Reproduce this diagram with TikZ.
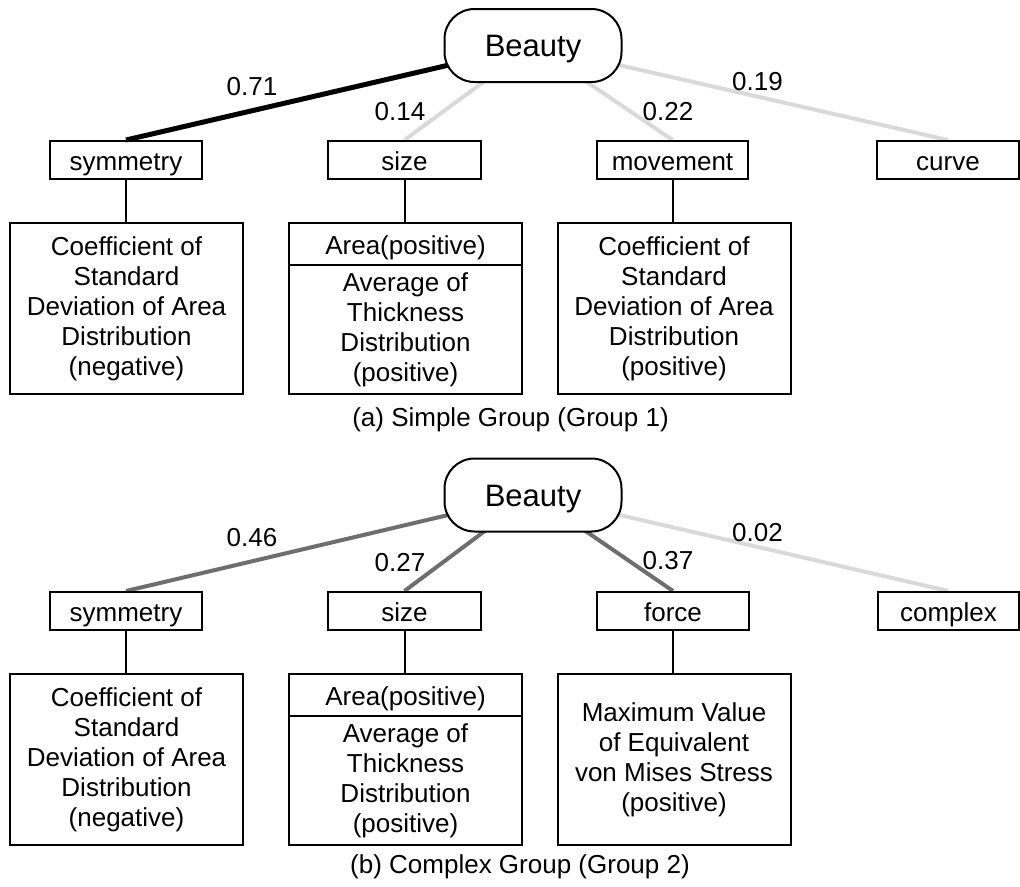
\documentclass[tikz,border=0pt]{standalone}
\usepackage{fontspec}
\setmainfont{Liberation Sans}
\usepackage{tikz}
\pgfdeclarelayer{background}
\pgfsetlayers{background,main}

\begin{document}
\begin{tikzpicture}[x=0.75pt,y=0.75pt,yscale=-1,xscale=1,
  every node/.style={font=\fontsize{19.5}{22.5}\selectfont},
  beautybox/.style={draw,line width=1.5pt,rounded corners=22.5pt,fill=white,minimum width=132.75pt,minimum height=54.75pt,inner sep=0pt,text height=21.4pt,text depth=4.6pt,font=\fontsize{23.25}{27}\selectfont},
  factorbox/.style={draw,line width=1.5pt,minimum height=28.5pt,inner sep=0pt,text height=19.5pt,text depth=3.7pt},
  detailbox/.style={draw,line width=1.5pt,minimum width=174.75pt,align=center,inner sep=0pt},
  strong/.style={line width=3.75pt,color={rgb, 255:red, 0; green, 0; blue, 0 }},
  mid/.style={line width=3pt,color={rgb, 255:red, 110; green, 110; blue, 110 }},
  weak/.style={line width=3pt,color={rgb, 255:red, 217; green, 217; blue, 217 }},
  stem/.style={line width=1.5pt}
]
\useasboundingbox (0,0) rectangle (1020,886);

%%%%%%%% (a) Simple Group %%%%%%%%

%Rounded Rect
\draw (533,45.5) node [beautybox] (beauty1) {Beauty};

% Factor boxes
\draw (126,160) node [factorbox,minimum width=114pt] (sym1) {symmetry};
\draw (404.5,160) node [factorbox,minimum width=114.75pt] (size1) {size};
\draw (672.5,160) node [factorbox,minimum width=113.25pt] (move1) {movement};
\draw (948,160) node [factorbox,minimum width=106.5pt] (curve1) {curve};

% Feature boxes
\draw (126.5,308.5) node [detailbox,minimum height=128.25pt] (coef1) {Coefficient of\\Standard\\Deviation of Area\\Distribution\\(negative)};
\draw (405.5,244) node [detailbox,minimum height=31.5pt,text height=19.5pt,text depth=3.7pt] (area1) {Area(positive)};
\draw (405.5,329.5) node [detailbox,minimum height=96.75pt] (thick1) {Average of\\Thickness\\Distribution\\(positive)};
\draw (674,308.5) node [detailbox,minimum height=128.25pt] (coefm1) {Coefficient of\\Standard\\Deviation of Area\\Distribution\\(positive)};

%Straight Lines
\begin{pgfonlayer}{background}
\draw [strong] (beauty1.center) -- (sym1.north);
\draw [weak] (beauty1.center) -- (size1.north);
\draw [weak] (beauty1.center) -- (move1.north);
\draw [weak] (beauty1.center) -- (curve1.north);
\end{pgfonlayer}
\draw [stem] (sym1.south) -- (sym1.south |- coef1.north);
\draw [stem] (size1.south) -- (size1.south |- area1.north);
\draw [stem] (move1.south) -- (move1.south |- coefm1.north);

% Text Node
\draw (252,87) node (w71) {0.71};
% Text Node
\draw (400,112) node (w14) {0.14};
% Text Node
\draw (668,112) node (w22) {0.22};
% Text Node
\draw (757.5,82) node (w19) {0.19};
% Text Node
\draw (510.5,420) node (capa) {(a) Simple Group (Group 1)};

%%%%%%%% (b) Complex Group %%%%%%%%

%Rounded Rect
\draw (533,495) node [beautybox] (beauty2) {Beauty};

% Factor boxes
\draw (126,611) node [factorbox,minimum width=114pt] (sym2) {symmetry};
\draw (404.5,611) node [factorbox,minimum width=114.75pt] (size2) {size};
\draw (673,611) node [factorbox,minimum width=114pt] (force2) {force};
\draw (948.5,611) node [factorbox,minimum width=105.75pt] (cplx2) {complex};

% Feature boxes
\draw (126.5,759.5) node [detailbox,minimum height=128.25pt] (coef2) {Coefficient of\\Standard\\Deviation of Area\\Distribution\\(negative)};
\draw (405.5,695) node [detailbox,minimum height=31.5pt,text height=19.5pt,text depth=3.7pt] (area2) {Area(positive)};
\draw (405.5,780.5) node [detailbox,minimum height=96.75pt] (thick2) {Average of\\Thickness\\Distribution\\(positive)};
\draw (674,759.5) node [detailbox,minimum height=128.25pt] (mises2) {Maximum Value\\of Equivalent\\von Mises Stress\\(positive)};

%Straight Lines
\begin{pgfonlayer}{background}
\draw [mid] (beauty2.center) -- (sym2.north);
\draw [mid] (beauty2.center) -- (size2.north);
\draw [mid] (beauty2.center) -- (force2.north);
\draw [weak] (beauty2.center) -- (cplx2.north);
\end{pgfonlayer}
\draw [stem] (sym2.south) -- (sym2.south |- coef2.north);
\draw [stem] (size2.south) -- (size2.south |- area2.north);
\draw [stem] (force2.south) -- (force2.south |- mises2.north);

% Text Node
\draw (252,538) node (w46) {0.46};
% Text Node
\draw (400,563) node (w27) {0.27};
% Text Node
\draw (668,561) node (w37) {0.37};
% Text Node
\draw (757.5,533) node (w02) {0.02};
% Text Node
\draw (520,867) node (capb) {(b) Complex Group (Group 2)};

\end{tikzpicture}
\end{document}
